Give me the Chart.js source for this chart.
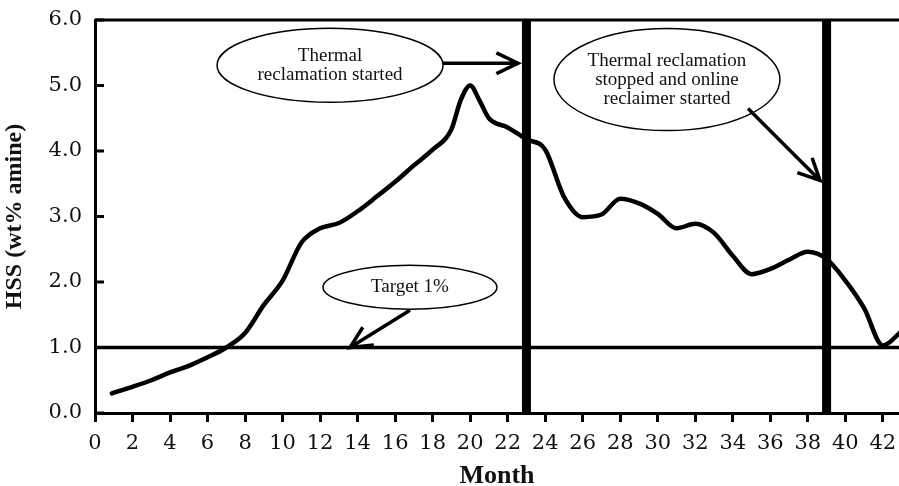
<!DOCTYPE html>
<html lang="en">
<head>
  <meta charset="UTF-8">
  <title>HSS vs Month</title>
  <script src="https://cdn.jsdelivr.net/npm/chart.js@4.4.0/dist/chart.umd.min.js"></script>
  <style>
    body { margin: 0; background: #fff; }
    canvas { display: block; }
  </style>
</head>
<body>
  <canvas id="hssChart" width="899" height="486"></canvas>

  <script>
    // data
    const months = [0.9, 2, 3, 4, 5, 6, 7, 8, 9, 10, 11, 12, 13, 14, 15, 16, 17, 18, 19, 19.5, 20, 20.5, 21, 22, 23, 24, 25, 26, 27, 28, 29, 30, 31, 32, 33, 34, 35, 36, 37, 38, 39, 40, 41, 42, 43];
    const hss = [0.30, 0.40, 0.50, 0.62, 0.72, 0.85, 1.00, 1.22, 1.65, 2.02, 2.60, 2.82, 2.90, 3.08, 3.30, 3.53, 3.78, 4.02, 4.33, 4.78, 5.00, 4.77, 4.50, 4.36, 4.18, 4.02, 3.30, 2.99, 3.03, 3.27, 3.20, 3.04, 2.82, 2.89, 2.75, 2.40, 2.12, 2.20, 2.34, 2.46, 2.35, 2.02, 1.60, 1.03, 1.25];
    const targetLevel = 1.0;
    const eventMonths = [23, 39];
    const xTicks = [0, 2, 4, 6, 8, 10, 12, 14, 16, 18, 20, 22, 24, 26, 28, 30, 32, 34, 36, 38, 40, 42];
    const yTicks = [0, 1, 2, 3, 4, 5, 6];

    const serif = '"Liberation Serif", "Times New Roman", serif';
    const tickFont = '"DejaVu Serif", serif';

    // callouts (positions in month / wt% units)
    const callouts = [
      { text: ['Thermal', 'reclamation started'], cx: 12.53, cy: 5.31, rx: 113, ry: 37,
        from: [18.55, 5.34], to: [22.55, 5.34] },
      { text: ['Thermal reclamation', 'stopped and online', 'reclaimer started'], cx: 30.49, cy: 5.09, rx: 113, ry: 51,
        from: [34.81, 4.65], to: [38.65, 3.55] },
      { text: ['Target 1%'], cx: 16.79, cy: 1.92, rx: 87, ry: 22,
        from: [16.79, 1.57], to: [13.59, 1.0] }
    ];

    function arrow(ctx, x1, y1, x2, y2) {
      const ang = Math.atan2(y2 - y1, x2 - x1);
      const len = 24, spread = Math.PI / 7;
      ctx.beginPath();
      ctx.moveTo(x1, y1);
      ctx.lineTo(x2, y2);
      ctx.moveTo(x2 - len * Math.cos(ang - spread), y2 - len * Math.sin(ang - spread));
      ctx.lineTo(x2, y2);
      ctx.lineTo(x2 - len * Math.cos(ang + spread), y2 - len * Math.sin(ang + spread));
      ctx.stroke();
    }

    const decorPlugin = {
      id: 'decor',
      afterDatasetsDraw(chart) {
        const { ctx, chartArea, scales } = chart;
        const sx = scales.x, sy = scales.y;
        ctx.save();
        ctx.strokeStyle = '#000';
        ctx.lineCap = 'butt';

        // top frame line
        ctx.lineWidth = 3;
        ctx.beginPath();
        ctx.moveTo(chartArea.left, chartArea.top);
        ctx.lineTo(chartArea.right, chartArea.top);
        ctx.stroke();

        // inward y ticks
        yTicks.forEach(v => {
          const py = sy.getPixelForValue(v);
          ctx.beginPath();
          ctx.moveTo(chartArea.left, py);
          ctx.lineTo(chartArea.left + 9, py);
          ctx.stroke();
        });

        callouts.forEach(c => {
          const cx = sx.getPixelForValue(c.cx), cy = sy.getPixelForValue(c.cy);
          ctx.fillStyle = '#fff';
          ctx.lineWidth = 1.5;
          ctx.beginPath();
          ctx.ellipse(cx, cy, c.rx, c.ry, 0, 0, Math.PI * 2);
          ctx.fill();
          ctx.stroke();

          ctx.fillStyle = '#111';
          ctx.font = '19px ' + serif;
          ctx.textAlign = 'center';
          ctx.textBaseline = 'middle';
          const lh = 19;
          const y0 = cy - (c.text.length - 1) * lh / 2;
          c.text.forEach((t, i) => ctx.fillText(t, cx, y0 + i * lh));

          ctx.lineWidth = 3.5;
          arrow(ctx,
            sx.getPixelForValue(c.from[0]), sy.getPixelForValue(c.from[1]),
            sx.getPixelForValue(c.to[0]), sy.getPixelForValue(c.to[1]));
        });
        ctx.restore();
      }
    };

    const hssPoints = months.map((m, i) => ({ x: m, y: hss[i] }));
    const eventSets = eventMonths.map(m => ({
      data: [{ x: m, y: 0 }, { x: m, y: 6 }],
      borderColor: '#000',
      borderWidth: 9,
      pointRadius: 0,
      borderCapStyle: 'butt'
    }));

    new Chart(document.getElementById('hssChart'), {
      type: 'line',
      data: {
        datasets: [
          {
            label: 'HSS',
            data: hssPoints,
            borderColor: '#000',
            borderWidth: 4.5,
            pointRadius: 0,
            cubicInterpolationMode: 'monotone',
            borderCapStyle: 'round',
            borderJoinStyle: 'round'
          },
          {
            label: 'Target',
            data: [{ x: 0, y: targetLevel }, { x: 43, y: targetLevel }],
            borderColor: '#000',
            borderWidth: 3.5,
            pointRadius: 0
          },
          ...eventSets
        ]
      },
      options: {
        responsive: false,
        animation: false,
        events: [],
        layout: { padding: { top: 20, right: 0, left: 0, bottom: 0 } },
        plugins: { legend: { display: false }, tooltip: { enabled: false } },
        scales: {
          x: {
            type: 'linear',
            min: 0,
            max: 42.86,
            afterBuildTicks: s => { s.ticks = xTicks.map(v => ({ value: v })); },
            afterFit: s => { s.height = 73; s.paddingLeft = 0; s.paddingRight = 0; },
            border: { display: true, color: '#000', width: 3 },
            grid: { drawOnChartArea: false, drawTicks: true, tickLength: 9, tickWidth: 3, tickColor: '#000' },
            ticks: {
              autoSkip: false,
              maxRotation: 0,
              padding: 9,
              color: '#111',
              font: { family: tickFont, size: 21 }
            },
            title: {
              display: true,
              text: 'Month',
              color: '#111',
              padding: { top: 0, bottom: -6 },
              font: { family: serif, size: 26, weight: 'bold' }
            }
          },
          y: {
            min: 0,
            max: 6,
            afterBuildTicks: s => { s.ticks = yTicks.map(v => ({ value: v })); },
            afterFit: s => { s.width = 95; s.paddingTop = 0; s.paddingBottom = 0; },
            border: { display: true, color: '#000', width: 3 },
            grid: { drawOnChartArea: false, drawTicks: false },
            ticks: {
              padding: 13,
              color: '#111',
              font: { family: tickFont, size: 21 },
              callback: v => v.toFixed(1)
            },
            title: {
              display: true,
              text: 'HSS (wt% amine)',
              color: '#111',
              padding: { top: 0, bottom: 0 },
              font: { family: serif, size: 24, weight: 'bold' }
            }
          }
        }
      },
      plugins: [decorPlugin]
    });
  </script>
</body>
</html>
